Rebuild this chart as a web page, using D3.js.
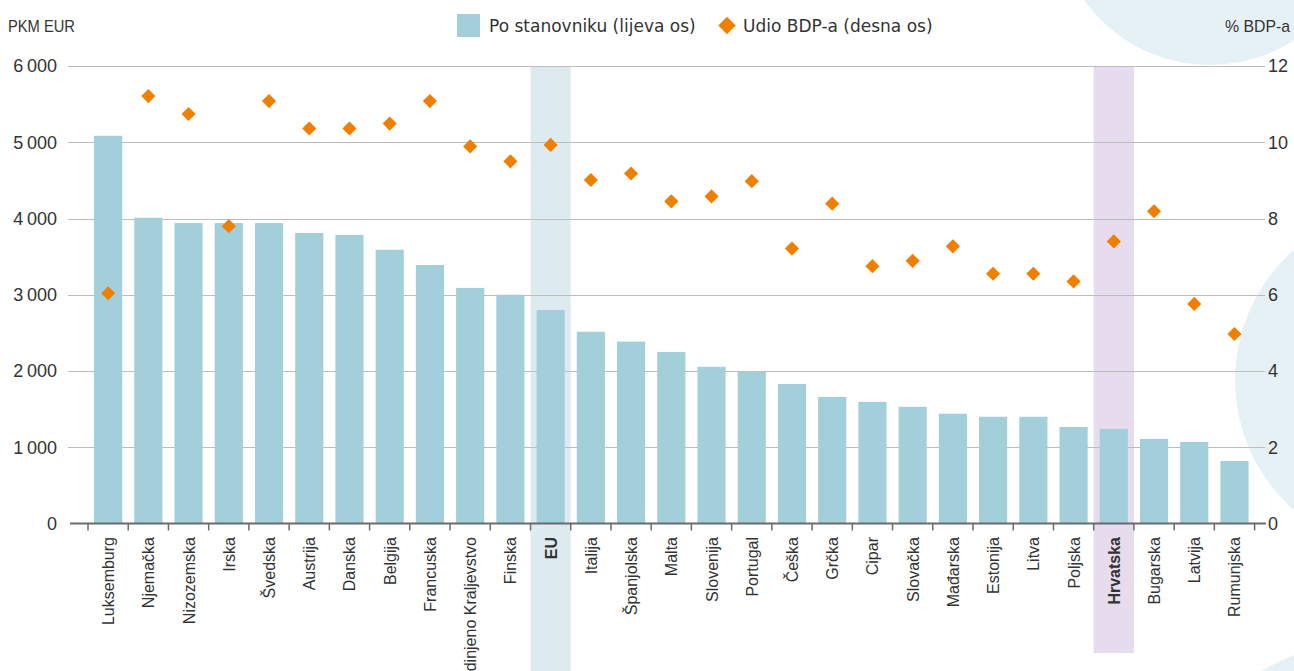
<!DOCTYPE html>
<html>
<head>
<meta charset="utf-8">
<script src="https://cdn.jsdelivr.net/npm/d3@7"></script>
<style>
  html, body { margin: 0; padding: 0; background: #fff; }
  svg { display: block; }
</style>
</head>
<body>
<svg id="chart" width="1294" height="671"></svg>
<script>
// ---------- DATA ----------
const categories = ["Luksemburg", "Njemačka", "Nizozemska", "Irska", "Švedska", "Austrija", "Danska", "Belgija", "Francuska", "Ujedinjeno Kraljevstvo", "Finska", "EU", "Italija", "Španjolska", "Malta", "Slovenija", "Portugal", "Češka", "Grčka", "Cipar", "Slovačka", "Mađarska", "Estonija", "Litva", "Poljska", "Hrvatska", "Bugarska", "Latvija", "Rumunjska"];
const perCapita = [5085, 4010, 3940, 3940, 3940, 3810, 3785, 3590, 3390, 3090, 3000, 2800, 2515, 2385, 2250, 2055, 1990, 1830, 1660, 1595, 1530, 1440, 1400, 1400, 1265, 1240, 1110, 1070, 820];
const gdpShare = [6.04, 11.21, 10.74, 7.80, 11.08, 10.36, 10.36, 10.49, 11.08, 9.89, 9.50, 9.93, 9.01, 9.18, 8.45, 8.58, 8.98, 7.21, 8.39, 6.75, 6.89, 7.27, 6.55, 6.55, 6.35, 7.40, 8.19, 5.76, 4.97];
const leftTicks = [0, 1000, 2000, 3000, 4000, 5000, 6000];
const rightTicks = [0, 2, 4, 6, 8, 10, 12];
const boldCategories = ["EU", "Hrvatska"];
const legendLabels = ["Po stanovniku (lijeva os)", "Udio BDP-a (desna os)"];
const leftTitle = "PKM EUR";
const rightTitle = "% BDP-a";

// ---------- SETUP ----------
const svg = d3.select("#chart");
const W = 1294, H = 671;
const yTop = 66, yBottom = 523.5;
const xStart = 88, xEnd = 1254.6;

const barColor = "#a3cfdb";
const diamondColor = "#f07f00";
const textColor = "#333";
const gridColor = "#bdbdbd";

const fmt = d3.formatLocale({decimal: ",", thousands: "\u2009", grouping: [3], currency: ["", ""]}).format(",d");

const xBand = d3.scaleBand().domain(categories).range([xStart, xEnd]).paddingInner(0.3).paddingOuter(0.15);
const xFull = d3.scaleBand().domain(categories).range([xStart, xEnd]).padding(0);
const yL = d3.scaleLinear().domain([0, 6000]).range([yBottom, yTop]);
const yR = d3.scaleLinear().domain([0, 12]).range([yBottom, yTop]);

// ---------- BACKGROUND DECOR ----------
const deco = svg.append("g");
deco.append("circle").attr("cx", 1210).attr("cy", -90).attr("r", 155).attr("fill", "#e6f1f6");
deco.append("circle").attr("cx", 1408).attr("cy", 380).attr("r", 173).attr("fill", "#e6f1f6");
deco.append("circle").attr("cx", 1409).attr("cy", 932).attr("r", 300).attr("fill", "#e6f1f6");

// ---------- HIGHLIGHT BANDS ----------
svg.append("rect").attr("x", xFull("EU")).attr("width", xFull.bandwidth())
  .attr("y", yTop).attr("height", H - yTop).attr("fill", "#ddebf1");
svg.append("rect").attr("x", xFull("Hrvatska")).attr("width", xFull.bandwidth())
  .attr("y", yTop).attr("height", 653 - yTop).attr("fill", "#e6dcee");

// ---------- GRIDLINES ----------
svg.append("g").selectAll("line").data(leftTicks.filter(d => d > 0)).join("line")
  .attr("x1", 68).attr("x2", 1265)
  .attr("y1", d => Math.round(yL(d)) + 0.5).attr("y2", d => Math.round(yL(d)) + 0.5)
  .attr("stroke", gridColor).attr("stroke-width", 1.2);

// ---------- BARS ----------
svg.append("g").selectAll("rect").data(categories).join("rect")
  .attr("x", (d) => xBand(d))
  .attr("width", xBand.bandwidth())
  .attr("y", (d, i) => yL(perCapita[i]))
  .attr("height", (d, i) => yBottom - yL(perCapita[i]))
  .attr("fill", barColor);

// ---------- X AXIS ----------
svg.append("line").attr("x1", 70).attr("x2", 1266).attr("y1", yBottom).attr("y2", yBottom)
  .attr("stroke", "#6b6b6b").attr("stroke-width", 2);
const tickPos = categories.map(c => xFull(c)).concat([xFull(categories[categories.length - 1]) + xFull.bandwidth()]);
svg.append("g").selectAll("line").data(tickPos).join("line")
  .attr("x1", d => d).attr("x2", d => d).attr("y1", yBottom).attr("y2", yBottom + 7)
  .attr("stroke", "#6b6b6b").attr("stroke-width", 1.5);

svg.append("g").selectAll("text").data(categories).join("text")
  .attr("transform", d => `translate(${xBand(d) + xBand.bandwidth() / 2 + 6},${537}) rotate(-90)`)
  .attr("text-anchor", "end")
  .attr("font-family", "'Liberation Sans', Arial, sans-serif")
  .attr("font-size", 16)
  .attr("font-weight", d => boldCategories.includes(d) ? "bold" : "normal")
  .attr("fill", textColor)
  .text(d => d);

// ---------- DIAMONDS ----------
const diamond = d3.symbol().type(d3.symbolSquare).size(100);
svg.append("g").selectAll("path").data(categories).join("path")
  .attr("d", diamond)
  .attr("transform", (d, i) => `translate(${xBand(d) + xBand.bandwidth() / 2},${yR(gdpShare[i])}) rotate(45)`)
  .attr("fill", diamondColor);

// ---------- Y AXES LABELS ----------
svg.append("g").selectAll("text").data(leftTicks).join("text")
  .attr("x", 57).attr("y", d => yL(d)).attr("dy", "0.36em")
  .attr("text-anchor", "end")
  .attr("font-family", "'Liberation Sans', Arial, sans-serif")
  .attr("font-size", 18).attr("fill", textColor)
  .text(d => fmt(d));

svg.append("g").selectAll("text").data(rightTicks).join("text")
  .attr("x", 1268).attr("y", d => yR(d)).attr("dy", "0.36em")
  .attr("text-anchor", "start")
  .attr("font-family", "'Liberation Sans', Arial, sans-serif")
  .attr("font-size", 18).attr("fill", textColor)
  .text(d => d);

svg.append("text").attr("x", 8).attr("y", 32)
  .attr("font-family", "'Liberation Sans', sans-serif")
  .attr("font-size", 17).attr("fill", textColor)
  .attr("textLength", 67).attr("lengthAdjust", "spacingAndGlyphs")
  .text(leftTitle);
svg.append("text").attr("x", 1225).attr("y", 32)
  .attr("font-family", "'Liberation Sans', sans-serif")
  .attr("font-size", 17).attr("fill", textColor)
  .attr("textLength", 65).attr("lengthAdjust", "spacingAndGlyphs")
  .text(rightTitle);

// ---------- LEGEND ----------
const lg = svg.append("g");
lg.append("rect").attr("x", 457).attr("y", 14).attr("width", 23).attr("height", 23).attr("fill", barColor);
lg.append("text").attr("x", 489).attr("y", 32)
  .attr("font-family", "'DejaVu Sans', sans-serif").attr("font-size", 17).attr("fill", textColor)
  .text(legendLabels[0]);
lg.append("path").attr("d", d3.symbol().type(d3.symbolSquare).size(150))
  .attr("transform", "translate(727,25.5) rotate(45)").attr("fill", diamondColor);
lg.append("text").attr("x", 743).attr("y", 32)
  .attr("font-family", "'DejaVu Sans', sans-serif").attr("font-size", 17).attr("fill", textColor)
  .text(legendLabels[1]);
</script>
</body>
</html>
